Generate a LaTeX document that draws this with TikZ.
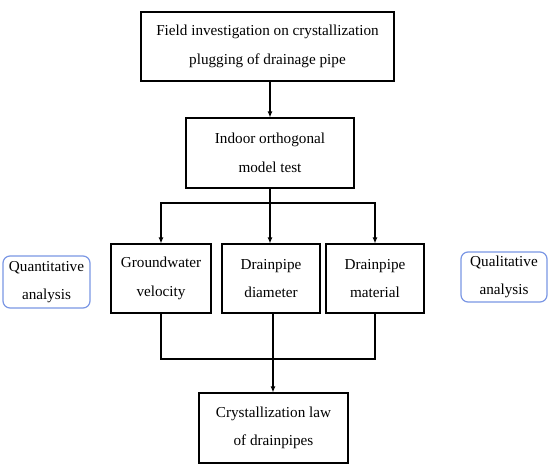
\documentclass[tikz,border=0pt]{standalone}
\usepackage{fontspec}
\setmainfont{Liberation Serif}
\usetikzlibrary{arrows.meta}
\definecolor{boxblue}{RGB}{122,150,228}

\begin{document}
\begin{tikzpicture}[x=1pt, y=-1pt, >={Latex[length=6pt,width=5pt]}, line width=1.1pt,
  stepbox/.style={draw, align=center, inner sep=0pt, font=\fontsize{15.2}{28.5}\selectfont},
  sidebox/.style={draw=boxblue, rounded corners=7pt, align=center, inner sep=0pt, line width=1.2pt, font=\fontsize{15.2}{28.5}\selectfont}]
\useasboundingbox (0,0) rectangle (550,466);
\node[stepbox, minimum width=253pt, minimum height=69pt] (field) at (267.5,46.5) {Field investigation on crystallization\\plugging of drainage pipe};
\node[stepbox, minimum width=168pt, minimum height=70pt] (indoor) at (270,153) {Indoor orthogonal\\model test};
\node[stepbox, minimum width=100pt, minimum height=69pt] (velocity) at (161,278.5) {Groundwater\\velocity};
\node[stepbox, minimum width=98pt, minimum height=69pt] (diameter) at (271,278.5) {Drainpipe\\diameter};
\node[stepbox, minimum width=98pt, minimum height=69pt] (material) at (375,278.5) {Drainpipe\\material};
\node[stepbox, minimum width=149pt, minimum height=70pt] (law) at (273.5,428) {Crystallization law\\of drainpipes};
\node[sidebox, minimum width=87pt, minimum height=52pt] (quant) at (46.5,282) {Quantitative\\analysis};
\node[sidebox, minimum width=86pt, minimum height=50pt] (qual) at (504,277) {Qualitative\\analysis};
% connectors
\coordinate (split) at (270,203);
\coordinate (merge) at (273,359);
\draw[->] (field.south -| indoor.north) -- (indoor.north);
\draw (indoor.south) -- (split);
\draw[->] (split) -| (velocity.north);
\draw[->] (split) -| (material.north);
\draw[->] (split) -- (split |- diameter.north);
\draw (velocity.south) |- (merge) -| (material.south);
\draw[->] (merge |- diameter.south) -- (merge |- law.north);
\end{tikzpicture}
\end{document}
